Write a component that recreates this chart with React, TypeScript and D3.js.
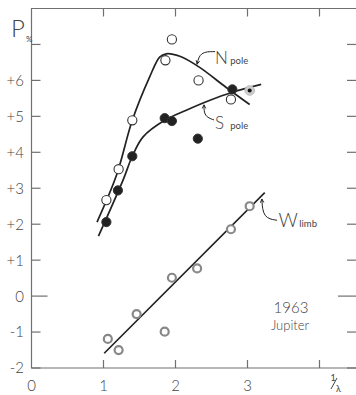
import React from "react";
import * as d3 from "d3";

// Polarization (%) vs inverse wavelength, Jupiter 1963
const nPole: [number, number][] = [
  [1.04, 2.67], [1.21, 3.53], [1.40, 4.89], [1.86, 6.56], [1.95, 7.14], [2.32, 6.0], [2.77, 5.47],
];
const sPole: [number, number][] = [
  [1.04, 2.06], [1.20, 2.94], [1.40, 3.89], [1.85, 4.95], [1.95, 4.87], [2.31, 4.38], [2.79, 5.75],
];
const sPoleFaint: [number, number][] = [[3.03, 5.72]];
const wLimb: [number, number][] = [
  [1.06, -1.19], [1.21, -1.5], [1.46, -0.5], [1.85, -0.99], [1.95, 0.51], [2.30, 0.77], [2.77, 1.86], [3.03, 2.5],
];

// Hand-fitted curves through each series
const nCurve: [number, number][] = [
  [0.91, 2.06], [1.18, 3.36], [1.40, 4.89], [1.64, 6.09], [1.78, 6.65], [1.87, 6.74], [2.06, 6.67],
  [2.33, 6.37], [2.70, 5.81], [3.03, 5.33],
];
const sCurve: [number, number][] = [
  [0.93, 1.67], [1.27, 3.22], [1.40, 3.89], [1.55, 4.43], [1.85, 4.89], [2.15, 5.17], [2.47, 5.44],
  [2.79, 5.67], [3.19, 5.89],
];
const wLine: [number, number][] = [[1.01, -1.59], [3.24, 2.88]];

// Leader lines from labels to curves
const nLeader: [number, number][] = [[2.55, 6.8], [2.34, 6.8], [2.3, 6.45]];
const sLeader: [number, number][] = [[2.535, 4.9], [2.396, 5.0], [2.396, 5.32]];
const wLeader: [number, number][] = [[3.41, 2.11], [3.215, 2.17], [3.2, 2.7]];

const yTicks = [-2, -1, 0, 1, 2, 3, 4, 5, 6, 7];
const yTickLabels = ["-2", "-1", "0", "+1", "+2", "+3", "+4", "+5", "+6", ""];
const xTicks = [0, 1, 2, 3, 4];
const xTickLabels = ["0", "1", "2", "3", ""];

const W = 356;
const H = 395;
const FONT = "Lato, 'Open Sans', 'DejaVu Sans', sans-serif";
const INK = "#222";
const AXIS = "#707070";
const TXT = "#444";

export default function App() {
  const x = d3.scaleLinear().domain([0, 4.6]).range([31.5, 31.5 + 72 * 4.6]);
  const y = d3.scaleLinear().domain([-2, 8]).range([368, 8.5]);
  const curve = d3.line<[number, number]>().x((d) => x(d[0])).y((d) => y(d[1])).curve(d3.curveCatmullRom.alpha(0.5));
  const straight = d3.line<[number, number]>().x((d) => x(d[0])).y((d) => y(d[1]));
  const leader = d3.line<[number, number]>().x((d) => x(d[0])).y((d) => y(d[1])).curve(d3.curveBasis);

  const left = x(0);
  const right = x(4.6);
  const top = y(8);
  const bottom = y(-2);

  const arrowAt = (pts: [number, number][]) => {
    const a = pts[pts.length - 2];
    const b = pts[pts.length - 1];
    const ang = Math.atan2(y(b[1]) - y(a[1]), x(b[0]) - x(a[0]));
    const tx = x(b[0]);
    const ty = y(b[1]);
    const l = 4;
    const w = 0.45;
    return `M${tx - l * Math.cos(ang - w)},${ty - l * Math.sin(ang - w)}L${tx},${ty}L${tx - l * Math.cos(ang + w)},${ty - l * Math.sin(ang + w)}`;
  };

  return (
    <svg width={W} height={H} style={{ position: "absolute", left: 0, top: 0, background: "#fff" }}>
      <rect width={W} height={H} fill="#fff" />
      {/* frame */}
      <path d={`M${right},${top}H${left}V${bottom}H${right}`} fill="none" stroke={AXIS} strokeWidth={1.2} />
      {/* y ticks, left and right */}
      {yTicks.map((t) => (
        <g key={"yt" + t}>
          <line x1={left} x2={left + (t === 0 ? 16 : 9)} y1={y(t)} y2={y(t)} stroke={AXIS} strokeWidth={1.2} />
          <line x1={t === 0 ? 338 : 347} x2={W} y1={y(t)} y2={y(t)} stroke={AXIS} strokeWidth={1.2} />
        </g>
      ))}
      {/* x ticks, bottom and top */}
      {xTicks.filter((t) => t > 0).map((t) => (
        <g key={"xt" + t}>
          <line x1={x(t)} x2={x(t)} y1={bottom} y2={bottom - 8} stroke={AXIS} strokeWidth={1.2} />
          <line x1={x(t)} x2={x(t)} y1={top} y2={top + 8} stroke={AXIS} strokeWidth={1.2} />
        </g>
      ))}
      {/* tick labels */}
      {yTicks.map((t, i) => (
        <text key={"yl" + t} x={24} y={y(t)} dy="0.36em" textAnchor="end" fontFamily={FONT} fontWeight={300} fontSize={15} fill={TXT}>
          {yTickLabels[i]}
        </text>
      ))}
      {xTicks.map((t, i) => (
        <text key={"xl" + t} x={x(t)} y={386} dy="0.36em" textAnchor="middle" fontFamily={FONT} fontWeight={300} fontSize={15} fill={TXT}>
          {xTickLabels[i]}
        </text>
      ))}
      {/* x axis title 1/λ */}
      <text x={333} y={381} textAnchor="middle" fontFamily={FONT} fontSize={9} fill={TXT}>1</text>
      <line x1={331} x2={337} y1={389} y2={378} stroke={TXT} strokeWidth={1} />
      <text x={338.5} y={392} textAnchor="middle" fontFamily={FONT} fontSize={9} fill={TXT}>λ</text>
      {/* y axis title P% */}
      <text x={11} y={37} fontFamily={FONT} fontWeight={300} fontSize={24} fill={TXT}>P</text>
      <text x={26} y={42} fontFamily={FONT} fontSize={8} fill={TXT}>%</text>

      {/* fitted curves */}
      <path d={curve(nCurve) ?? ""} fill="none" stroke={INK} strokeWidth={1.7} />
      <path d={curve(sCurve) ?? ""} fill="none" stroke={INK} strokeWidth={1.7} />
      <path d={straight(wLine) ?? ""} fill="none" stroke={INK} strokeWidth={1.6} />

      {/* leaders */}
      {[nLeader, sLeader, wLeader].map((pts, i) => (
        <g key={"ld" + i}>
          <path d={leader(pts) ?? ""} fill="none" stroke={INK} strokeWidth={1} />
          <path d={arrowAt(pts)} fill="none" stroke={INK} strokeWidth={1} />
        </g>
      ))}

      {/* points */}
      {wLimb.map((d, i) => (
        <circle key={"w" + i} cx={x(d[0])} cy={y(d[1])} r={4} fill="#fff" stroke="#888" strokeWidth={2.2} />
      ))}
      {nPole.map((d, i) => (
        <circle key={"n" + i} cx={x(d[0])} cy={y(d[1])} r={4.6} fill="#fff" stroke="#333" strokeWidth={1.1} />
      ))}
      {sPole.map((d, i) => (
        <circle key={"s" + i} cx={x(d[0])} cy={y(d[1])} r={4.6} fill="#222" stroke="#333" strokeWidth={1} />
      ))}
      {sPoleFaint.map((d, i) => (
        <g key={"sf" + i}>
          <circle cx={x(d[0])} cy={y(d[1])} r={4.8} fill="#ccc" stroke="#bbb" strokeWidth={1} />
          <circle cx={x(d[0])} cy={y(d[1])} r={2} fill="#111" />
        </g>
      ))}

      {/* series labels */}
      <text x={x(2.55)} y={y(6.46)} fontFamily={FONT} fontWeight={300} fontSize={17} fill={TXT}>N</text>
      <text x={x(2.76)} y={y(6.46)} fontFamily={FONT} fontSize={9.5} fill={TXT}>pole</text>
      <text x={x(2.55)} y={y(4.66)} fontFamily={FONT} fontWeight={300} fontSize={17} fill={TXT}>S</text>
      <text x={x(2.76)} y={y(4.66)} fontFamily={FONT} fontSize={9.5} fill={TXT}>pole</text>
      <text x={x(3.43)} y={y(1.93)} fontFamily={FONT} fontWeight={300} fontSize={19} fill={TXT}>W</text>
      <text x={x(3.72)} y={y(1.93)} fontFamily={FONT} fontSize={9.5} fill={TXT}>limb</text>

      <text x={291} y={313} textAnchor="middle" fontFamily={FONT} fontWeight={300} fontSize={15} fill={TXT}>1963</text>
      <text x={290} y={330} textAnchor="middle" fontFamily={FONT} fontWeight={300} fontSize={13} fill={TXT}>Jupiter</text>
    </svg>
  );
}
